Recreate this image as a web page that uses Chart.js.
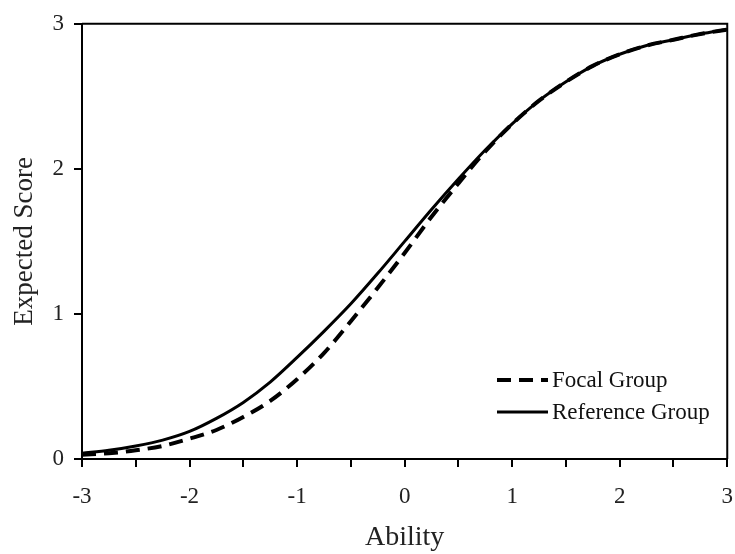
<!DOCTYPE html>
<html>
<head>
<meta charset="utf-8">
<script src="https://cdn.jsdelivr.net/npm/chart.js@4.4.1/dist/chart.umd.min.js"></script>
<style>
  html, body { margin: 0; padding: 0; background: #fff; }
  #wrap { width: 735px; height: 554px; }
</style>
</head>
<body>
<div id="wrap"><canvas id="c" width="735" height="554"></canvas></div>
<script>
const abilities = [-3, -2.75, -2.5, -2.25, -2, -1.75, -1.5, -1.25, -1, -0.75, -0.5, -0.25, 0, 0.25, 0.5, 0.75, 1, 1.25, 1.5, 1.75, 2, 2.25, 2.5, 2.75, 3];
const focalGroup = [0.03, 0.04, 0.06, 0.09, 0.14, 0.20, 0.29, 0.40, 0.55, 0.73, 0.95, 1.18, 1.42, 1.67, 1.90, 2.12, 2.31, 2.47, 2.60, 2.71, 2.79, 2.85, 2.89, 2.93, 2.96];
const referenceGroup = [0.04, 0.06, 0.09, 0.13, 0.19, 0.28, 0.39, 0.53, 0.70, 0.88, 1.07, 1.28, 1.50, 1.72, 1.93, 2.13, 2.31, 2.47, 2.60, 2.71, 2.79, 2.85, 2.89, 2.93, 2.96];
const xTickLabels = ['-3', '-2', '-1', '0', '1', '2', '3'];
const yTickLabels = ['0', '1', '2', '3'];

const serif = '"Liberation Serif", "Times New Roman", serif';

const framePlugin = {
  id: 'frame',
  afterDraw(chart) {
    const {ctx, chartArea: a} = chart;
    ctx.save();
    ctx.strokeStyle = '#000';
    ctx.lineWidth = 2;
    ctx.beginPath();
    ctx.moveTo(a.left, a.top);
    ctx.lineTo(a.right, a.top);
    ctx.lineTo(a.right, a.bottom);
    ctx.stroke();
    ctx.restore();
  }
};

const legendPlugin = {
  id: 'customLegend',
  afterDraw(chart) {
    const {ctx} = chart;
    const items = chart.data.datasets;
    const x0 = 497, x1 = 548, ys = [380, 412];
    ctx.save();
    ctx.font = '23px ' + serif;
    ctx.textBaseline = 'middle';
    ctx.fillStyle = '#111';
    items.forEach((ds, i) => {
      ctx.beginPath();
      ctx.strokeStyle = ds.borderColor;
      ctx.lineWidth = ds.borderWidth;
      ctx.setLineDash(ds.borderDash || []);
      ctx.moveTo(x0, ys[i]);
      ctx.lineTo(x1, ys[i]);
      ctx.stroke();
      ctx.setLineDash([]);
      ctx.fillText(ds.label, x1 + 4, ys[i] + 1);
    });
    ctx.restore();
  }
};

new Chart(document.getElementById('c'), {
  type: 'line',
  data: {
    datasets: [
      {
        label: 'Focal Group',
        data: abilities.map((a, i) => ({x: a, y: focalGroup[i]})),
        borderColor: '#000',
        borderWidth: 4,
        borderDash: [14, 8],
        pointRadius: 0,
        fill: false,
        cubicInterpolationMode: 'monotone'
      },
      {
        label: 'Reference Group',
        data: abilities.map((a, i) => ({x: a, y: referenceGroup[i]})),
        borderColor: '#000',
        borderWidth: 3,
        pointRadius: 0,
        fill: false,
        cubicInterpolationMode: 'monotone'
      }
    ]
  },
  options: {
    responsive: false,
    animation: false,
    events: [],
    layout: { padding: { top: 22, right: 0, left: 0, bottom: 0 } },
    plugins: { legend: { display: false }, tooltip: { enabled: false } },
    scales: {
      x: {
        type: 'linear',
        min: -3, max: 3,
        afterFit(s) { s.height = 95; },
        ticks: {
          stepSize: 0.5,
          autoSkip: false,
          maxRotation: 0,
          padding: 2,
          color: '#222',
          font: { family: serif, size: 23, lineHeight: 2.4 },
          callback(v) {
            const idx = xTickLabels.indexOf(String(v));
            return idx >= 0 ? xTickLabels[idx] : '';
          }
        },
        grid: { drawOnChartArea: false, drawTicks: true, tickLength: 8, color: '#000', lineWidth: 2 },
        border: { display: true, color: '#000', width: 2 },
        title: { display: true, text: 'Ability', color: '#222', font: { family: serif, size: 28 }, padding: 0 }
      },
      y: {
        min: 0, max: 3,
        afterFit(s) { s.width = 82; },
        ticks: {
          stepSize: 1,
          padding: 10,
          color: '#222',
          font: { family: serif, size: 23 },
          callback(v) {
            const idx = yTickLabels.indexOf(String(v));
            return idx >= 0 ? yTickLabels[idx] : '';
          }
        },
        grid: { drawOnChartArea: false, drawTicks: true, tickLength: 8, color: '#000', lineWidth: 2 },
        border: { display: true, color: '#000', width: 2 },
        title: { display: true, text: 'Expected Score', color: '#222', font: { family: serif, size: 27 }, padding: { top: 9, bottom: 0 } }
      }
    }
  },
  plugins: [framePlugin, legendPlugin]
});
</script>
</body>
</html>
